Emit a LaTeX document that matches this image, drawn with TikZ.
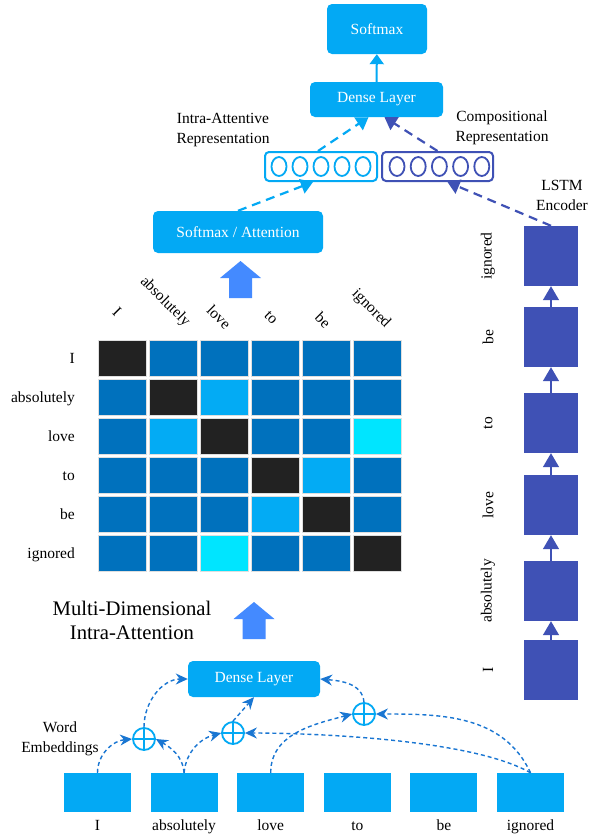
\documentclass[tikz,border=0pt]{standalone}
\usepackage{fontspec}
\setmainfont{Liberation Serif}
\usetikzlibrary{arrows.meta}

\definecolor{lightblue}{HTML}{03A9F4}
\definecolor{indigo}{HTML}{3F51B5}
\definecolor{linkblue}{HTML}{1976D2}
\definecolor{arrowblue}{HTML}{448AFF}
\definecolor{celld}{HTML}{222222}
\definecolor{cellm}{HTML}{0071BD}
\definecolor{celll}{HTML}{03ABF4}
\definecolor{cellc}{HTML}{00E5FF}

\begin{document}
\begin{tikzpicture}[x=1pt,y=-1pt]

  \tikzstyle{wordtext} = [font=\fontsize{15.5}{20}\selectfont, align=center, inner sep=0]
  \tikzstyle{layer} = [wordtext, rounded corners=5, fill=lightblue, text=white]
  \tikzstyle{vecbox} = [draw, rounded corners=4, line width=2, minimum height=29]
  \tikzstyle{cell} = [draw=gray!25, line width=0.6, minimum width=48, minimum height=36, inner sep=0]
  \tikzstyle{lstmbox} = [fill=indigo, minimum width=54, minimum height=60, inner sep=0]
  \tikzstyle{wordbox} = [fill=lightblue, minimum width=67, minimum height=39, inner sep=0]
  \tikzstyle{oplus} = [circle, draw=lightblue, line width=1.8, minimum size=22, inner sep=0,
    path picture={\draw[lightblue, line width=1.8] (path picture bounding box.north) -- (path picture bounding box.south)
      (path picture bounding box.west) -- (path picture bounding box.east);}]
  \tikzstyle{toplink} = [line width=2.2, dash pattern=on 9pt off 6pt, -{Triangle[length=12pt,width=15pt]}]
  \tikzstyle{link} = [linkblue, line width=1.4, dash pattern=on 4pt off 3pt, -{Stealth[length=12pt,width=11pt]}]

  \fill[white] (0,0) rectangle (599,836);
  \useasboundingbox (0,0) rectangle (599,836);

  \node[layer, minimum width=100, minimum height=50] (softmax) at (377,29) {Softmax};
  \node[layer, minimum width=133, minimum height=35] (dense) at (376.5,99.5) {Dense Layer};
  \node[layer, minimum width=170, minimum height=42] (attn) at (238,232) {Softmax / Attention};

  \node[wordtext] (intralbl) at (223,130.5) {Intra-Attentive\\Representation};
  \node[wordtext] (complbl) at (502,127.5) {Compositional\\Representation};
  \node[wordtext] (lstmlbl) at (562,195) {LSTM\\Encoder};

  \node[vecbox, draw=lightblue, minimum width=112] (vecL) at (321,166.5) {};
  \node[vecbox, draw=indigo, minimum width=111] (vecR) at (437.5,166.5) {};
  \foreach \k in {0,...,4} {
    \draw[lightblue, line width=1.8] (279+21*\k,166.5) ellipse (7.5 and 9.5);
    \draw[indigo, line width=1.8] (397+21.2*\k,166.5) ellipse (7.5 and 9.5);
  }

  \draw[lightblue, line width=2, -{Triangle[length=10pt,width=14pt]}] (dense) -- (softmax);
  \draw[toplink, lightblue] ([xshift=-3pt]vecL.north) -- ([xshift=-8pt]dense.south);
  \draw[toplink, indigo] (vecR.north) -- ([xshift=8pt]dense.south);
  \draw[toplink, lightblue] (attn.north) -- ([xshift=-8pt]vecL.south);

  \foreach \n/\yc/\w in {1/670/I, 2/591/absolutely, 3/505/love, 4/423/to, 5/337/be, 6/256/ignored} {
    \node[lstmbox] (l\n) at (551,\yc) {};
    \node[wordtext, rotate=90] (lw\n) at (488,\yc) {\w};
  }
  \foreach \a/\b in {1/2, 2/3, 3/4, 4/5, 5/6}
    \draw[indigo, line width=1.5, -{Triangle[length=14pt,width=16pt]}] (l\a) -- (l\b);
  \draw[toplink, indigo] (l6.north) -- ([xshift=10pt]vecR.south);

  \foreach \cx/\ty in {240.5/261, 254/602}
    \fill[arrowblue] (\cx-20.5,\ty+17) -- (\cx,\ty) -- (\cx+20.5,\ty+17) -- (\cx+11.5,\ty+17)
      -- (\cx+11.5,\ty+37) -- (\cx-11.5,\ty+37) -- (\cx-11.5,\ty+17) -- cycle;

  \foreach \row [count=\r from 0] in {{d,m,m,m,m,m},{m,d,l,m,m,m},{m,l,d,m,m,c},{m,m,m,d,l,m},{m,m,m,l,d,m},{m,m,c,m,m,d}}
    \foreach \c [count=\k from 0] in \row
      \node[cell, fill=cell\c] (m\r\k) at (122+51*\k,358+39*\r) {};

  \foreach \w [count=\r from 0] in {I,absolutely,love,to,be,ignored}
    \node[wordtext, anchor=base east] (row\r) at (75,363+39*\r) {\w};
  \foreach \w/\cx/\cy [count=\k from 0] in {I/117/312, absolutely/165/302, love/219/317, to/271/318, be/323/320, ignored/371/309}
    \node[wordtext, rotate=-45] (col\k) at (\cx,\cy) {\w};

  \node[font=\fontsize{20.7}{24}\selectfont, align=center, inner sep=0] (mdia) at (132,620) {Multi-Dimensional\\Intra-Attention};

  \node[layer, minimum width=132, minimum height=36] (dense2) at (254,679) {Dense Layer};
  \node[wordtext] (embl) at (60,739) {Word\\Embeddings};

  \foreach \w [count=\i] in {I,absolutely,love,to,be,ignored} {
    \node[wordbox] (w\i) at ({97.5+86.6*(\i-1)},792.5) {};
    \node[wordtext, anchor=base] (wl\i) at ([yshift=-18pt]w\i.south) {\w};
  }

  \node[oplus] (o1) at (144,739) {};
  \node[oplus] (o2) at (233,733) {};
  \node[oplus] (o3) at (364,714) {};

  \draw[link] (w1.north) to[out=90,in=185] (o1.west);
  \draw[link] (w2.north) to[out=95,in=-30] (o1.east);
  \draw[link] (w2.north) to[out=85,in=195] (o2.west);
  \draw[link] (w6.north) to[out=150,in=0,looseness=0.6] (o2.east);
  \draw[link] (w3.north) to[out=90,in=195] (o3.west);
  \draw[link] (w6.north) to[out=115,in=0] (o3.east);
  \draw[link] (o1.north) to[out=90,in=180] (dense2.west);
  \draw[link] (o2.north) -- (dense2.south);
  \draw[link] (o3.north) to[out=95,in=-5] (dense2.east);

\end{tikzpicture}
\end{document}
